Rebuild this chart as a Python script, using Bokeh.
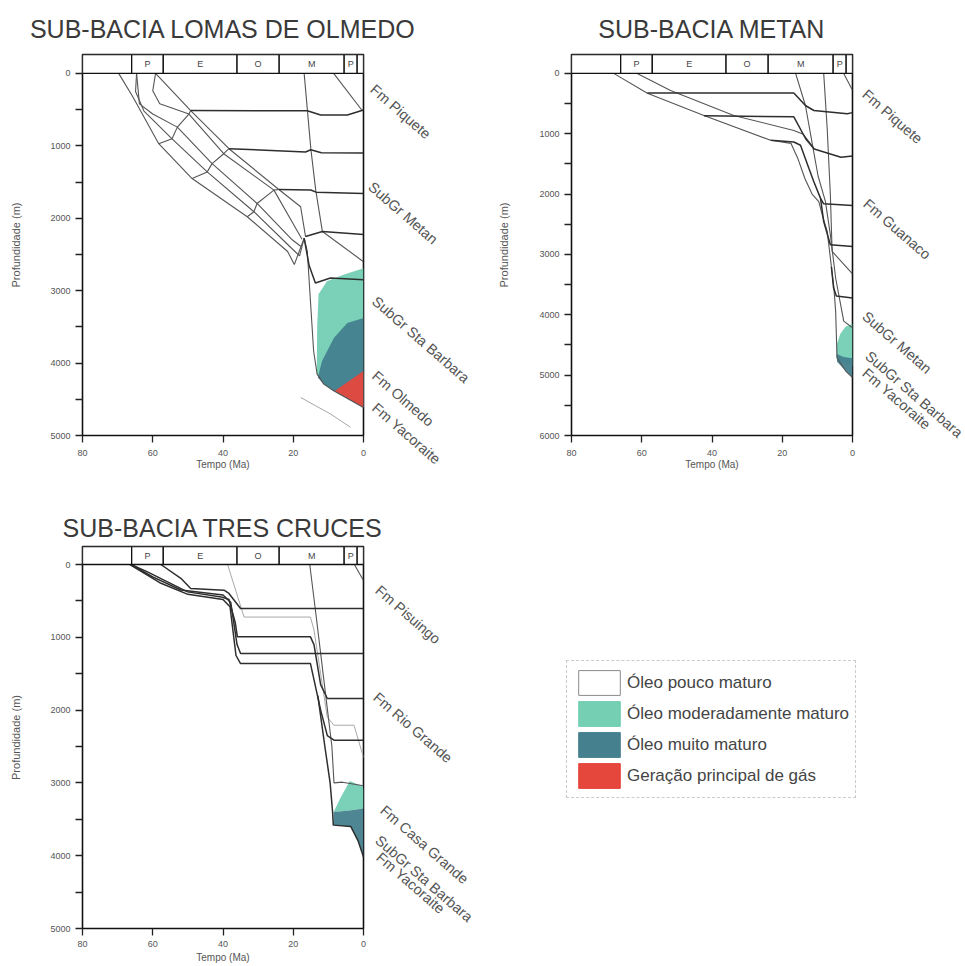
from bokeh.plotting import figure
from bokeh.layouts import row, column
from bokeh.models import (Range1d, FixedTicker, ColumnDataSource, Legend, LegendItem)
from bokeh.core.properties import value
from bokeh.embed import file_html
from bokeh.resources import INLINE

FONT = "Liberation Sans"
NAN = float("nan")

# ------------------------------------------------------------------ data
ERA_START = [80, 66, 57, 36, 24, 5.5, 1.8]
ERA_END = [66, 57, 36, 24, 5.5, 1.8, 0]
ERA_NAMES = ["", "P", "E", "O", "M", "P", ""]
X_TICKS = [80, 60, 40, 20, 0]

LEGEND_NAMES = ["Óleo pouco maturo", "Óleo moderadamente maturo",
                "Óleo muito maturo", "Geração principal de gás"]

# ---- Sub-bacia Lomas de Olmedo  (age Ma, depth m)
LO_TITLE = "SUB-BACIA LOMAS DE OLMEDO"
LO_MAX = 5000
LO_BAND_1 = [(69.7, 0), (65.6, 330), (58.3, 971), (48.8, 1452), (33.1, 1979), (21.6, 2459),
             (19.7, 2640), (16.9, 2276), (16.0, 2459), (15.1, 3146), (14.2, 3833),
             (13.2, 4153), (11.3, 4291), (8.5, 4383), (0, 4612)]
LO_BAND_2 = [(64.6, 0), (64.9, 250), (62.5, 520), (54.5, 903), (44.5, 1360), (31.2, 1910),
             (21.0, 2390), (18.2, 2520), (16.9, 2276)]
LO_BAND_3 = [(64.6, 0), (63.8, 420), (60.0, 560), (53.0, 742), (43.1, 1246), (30.3, 1796),
             (20.5, 2290), (17.8, 2390)]
LO_BAND_4 = [(59.2, 0), (60.0, 240), (58.0, 420), (49.7, 562), (39.8, 1109), (25.5, 1612),
             (19.5, 2120), (17.5, 2290)]
LO_BAND_5 = [(59.2, 0), (49.2, 513), (38.3, 1040), (24.1, 1603), (17.9, 1841), (16.5, 2253)]
LO_KINK_1 = [(58.3, 971), (54.5, 903), (53.0, 742), (49.7, 562), (49.2, 513)]
LO_KINK_2 = [(48.8, 1452), (44.5, 1360), (43.1, 1246), (39.8, 1109), (38.3, 1040)]
LO_KINK_3 = [(33.1, 1979), (31.2, 1910), (30.3, 1796), (25.5, 1612), (24.1, 1603)]
LO_H_500 = [(49.2, 513), (16.0, 515), (12.2, 575), (4.6, 575), (0, 505)]
LO_H_1100 = [(38.3, 1040), (16.5, 1085), (15.0, 1055), (12.0, 1095), (0, 1100)]
LO_H_1650 = [(24.1, 1603), (15.0, 1610), (13.5, 1640), (0, 1660)]
LO_H_2200 = [(16.5, 2253), (11.7, 2184), (0, 2226)]
LO_H_2850 = [(16.9, 2276), (15.5, 2650), (13.7, 2895), (9.4, 2826), (0, 2850)]
LO_V_17 = [(16.9, 0), (15.0, 1039), (13.6, 1612), (11.7, 2184)]
LO_V_8 = [(8.5, 0), (0.5, 505)]
LO_D_2600 = [(11.7, 2184), (0, 2600)]
LO_FAINT = [(17.9, 4475), (9.4, 4703), (3.7, 4886)]
LO_MOD = [(0, 2690), (5.7, 2780), (10.4, 2870), (12.8, 3050), (13.2, 3500), (13.3, 4150),
          (11.3, 4291), (8.5, 4383), (0, 4612)]
LO_VMAT = [(0, 3376), (4.6, 3445), (8.4, 3651), (11.8, 3971), (13.0, 4200), (11.3, 4291),
           (8.5, 4383), (0, 4612)]
LO_GAS = [(0, 4108), (8.2, 4385), (0, 4612)]
LO_FM = ["Fm Piquete", "SubGr Metan", "SubGr Sta Barbara", "Fm Olmedo", "Fm Yacoraite"]
LO_FM_AGE = [-2.6, -2.0, -3.1, -3.1, -3.1]
LO_FM_DEPTH = [192, 1538, 3118, 4148, 4588]

# ---- Sub-bacia Metan
ME_TITLE = "SUB-BACIA METAN"
ME_MAX = 6000
ME_X = [(68.0, 0), (58.4, 330), (42.3, 697), (23.3, 1109), (17.5, 1160), (15.5, 1420),
        (13.5, 1750), (11.5, 2000), (9.6, 2126), (8.6, 2346), (7.2, 2620), (6.3, 3060),
        (5.3, 3554), (4.8, 3939), (4.4, 4708), (2.0, 4928), (0, 5040)]
ME_Y = [(61.3, 0), (51.8, 285), (33.8, 697), (16.7, 947), (14.0, 1010), (11.5, 1200),
        (10.9, 1252)]
ME_H1 = [(58.4, 325), (16.7, 325), (13.4, 532), (11.0, 615), (1.5, 670), (0, 650)]
ME_H2 = [(42.3, 700), (16.7, 720), (13.3, 1087), (10.9, 1252), (3.3, 1390), (0, 1370)]
ME_H3 = [(23.3, 1109), (16.7, 1137), (14.8, 1191), (12.4, 1577), (11.0, 1796), (9.1, 2071),
         (8.2, 2160), (0, 2190)]
ME_S2 = [(9.1, 2071), (8.2, 2456), (6.3, 2840), (0, 2870)]
ME_B = [(6.0, 3208), (5.4, 3550), (4.6, 3690), (0, 3720)]
ME_V1 = [(16.2, 0), (13.4, 532), (11.5, 1150), (9.8, 1700), (7.7, 2126), (6.3, 2675),
         (4.8, 3390), (2.5, 4104), (0, 4214)]
ME_V2 = [(8.2, 0), (7.2, 918), (6.3, 2015), (5.8, 2950), (0, 3320)]
ME_TOP = [(2.5, 0), (0, 280)]
ME_MOD = [(0, 4150), (2.0, 4200), (3.5, 4320), (4.5, 4500), (4.6, 4720), (2.5, 4800), (0, 4850)]
ME_VMAT = [(4.5, 4650), (2.5, 4700), (0, 4720), (0, 5040), (2.0, 4928), (4.4, 4780)]
ME_FM = ["Fm Piquete", "Fm Guanaco", "SubGr Metan", "SubGr Sta Barbara", "Fm Yacoraite"]
ME_FM_AGE = [-3.4, -3.7, -3.4, -4.3, -3.4]
ME_FM_DEPTH = [313, 2126, 3989, 4648, 4929]

# ---- Sub-bacia Tres Cruces
TC_TITLE = "SUB-BACIA TRES CRUCES"
TC_MAX = 5000
TC_H1 = [(57.7, 0), (52.0, 190), (49.2, 330), (39.7, 353), (38.3, 398), (35.0, 605), (0, 605)]
TC_D2 = [(66.2, 0), (61.5, 101), (55.8, 239), (50.1, 376), (40.5, 445), (38.3, 480),
         (36.5, 800), (35.9, 994), (15.1, 994), (14.1, 1100), (12.2, 1650), (10.3, 1841),
         (0, 1841)]
TC_D3 = [(66.2, 0), (60.0, 170), (52.0, 350), (40.0, 420), (37.8, 520), (36.0, 1100),
         (35.0, 1223), (0, 1223)]
TC_D4 = [(66.5, 0), (58.0, 250), (50.0, 410), (40.0, 480), (38.0, 580), (36.3, 1250),
         (35.0, 1361), (15.1, 1361), (12.2, 2000), (10.3, 2350), (8.4, 2414), (0, 2414)]
TC_LIGHT = [(38.7, 0), (34.0, 722), (15.1, 722), (14.1, 900), (12.2, 1500), (10.3, 2100),
            (8.4, 2208), (2.7, 2208), (0, 2650)]
TC_V = [(15.3, 0), (13.5, 700), (12.0, 1300), (10.5, 1900), (9.0, 2500), (8.4, 3000),
        (6.0, 2990), (0, 3040)]
TC_DEEP = [(13.0, 1800), (11.0, 2500), (9.5, 3000), (8.8, 3400), (8.6, 3580), (3.6, 3600),
           (1.5, 3800), (0, 4018)]
TC_TOP = [(2.6, 0), (0, 220)]
TC_MOD = [(3.9, 2974), (0.2, 3050), (0, 3096), (0, 3350), (4.0, 3380), (8.5, 3400), (6.5, 3200)]
TC_VMAT = [(8.5, 3400), (4.0, 3380), (0, 3350), (0, 4018), (1.5, 3800), (3.6, 3600), (8.5, 3580)]
TC_FM = ["Fm Pisuingo", "Fm Rio Grande", "Fm Casa Grande", "SubGr Sta Barbara", "Fm Yacoraite"]
TC_FM_AGE = [-4.0, -3.4, -5.4, -4.0, -4.3]
TC_FM_DEPTH = [326, 1795, 3347, 3760, 3993]

# ------------------------------------------------------------------ style
C_MOD = "#74cfb3"
C_VMAT = "#45808e"
C_GAS = "#e5473d"
C_DARK = "#2e2e2e"
C_MID = "#555555"
C_LIGHT = "#a8a8a8"
DATA_PX = 364


def xy(seq):
    return [a for a, _ in seq], [d for _, d in seq]


def make_fig(title, max_depth, hdr_px, width, height, bl, br, bt, bb, title_standoff,
             ylab_standoff, x_tick_out, x_lab_standoff, x_axlab_standoff,
             dark, mid, light, fills, fm_names, fm_age, fm_depth):
    hdr = hdr_px * max_depth / DATA_PX
    p = figure(width=width, height=height, x_range=Range1d(80, 0),
               y_range=Range1d(max_depth, -hdr), output_backend="svg",
               toolbar_location=None, min_border_left=bl, min_border_right=br,
               min_border_top=bt, min_border_bottom=bb,
               background_fill_color="white", border_fill_color="white")
    p.grid.visible = False
    p.outline_line_color = "#111111"
    p.outline_line_width = 1.6

    p.title.text = title
    p.title.text_font = FONT
    p.title.text_font_size = "25px"
    p.title.text_font_style = "normal"
    p.title.text_color = "#3a3a3a"
    p.title.align = "center"
    p.title.standoff = title_standoff

    for ax in (p.xaxis[0], p.yaxis[0]):
        ax.axis_line_color = None
        ax.major_tick_in = 0
        ax.major_tick_line_color = "#222222"
        ax.major_tick_line_width = 1.3
        ax.minor_tick_line_color = None
        ax.major_label_text_font = FONT
        ax.major_label_text_font_size = "9px"
        ax.major_label_text_color = "#555555"
        ax.axis_label_text_font = FONT
        ax.axis_label_text_font_style = "normal"
        ax.axis_label_text_color = "#555555"
        ax.axis_label_text_font_size = "10px"

    p.xaxis.ticker = FixedTicker(ticks=X_TICKS)
    p.xaxis.axis_label = "Tempo (Ma)"
    p.xaxis.major_tick_out = x_tick_out
    p.xaxis.major_label_standoff = x_lab_standoff
    p.xaxis.axis_label_standoff = x_axlab_standoff

    yt = list(range(0, max_depth + 1, 500))
    p.yaxis.ticker = FixedTicker(ticks=yt)
    p.yaxis.major_label_overrides = {v: "" for v in yt if v % 1000}
    p.yaxis.axis_label = "Profundidade (m)"
    p.yaxis.major_tick_out = 7
    p.yaxis.major_label_standoff = 5
    p.yaxis.axis_label_standoff = ylab_standoff
    p.yaxis.axis_label_text_font_size = "11px"

    # maturity windows
    for seq, col in fills:
        a, d = xy(seq)
        p.patch(a, d, fill_color=col, line_color=None, fill_alpha=0.95)

    # burial curves
    for group, col, lw in ((light, C_LIGHT, 1.0), (mid, C_MID, 1.1), (dark, C_DARK, 1.5)):
        for seq in group:
            a, d = xy(seq)
            p.line(a, d, line_color=col, line_width=lw)

    # chronostratigraphic header
    p.quad(left=ERA_START, right=ERA_END, top=-hdr, bottom=0, fill_color="white",
           line_color="#111111", line_width=1.3)
    mids = [(s + e) / 2 for s, e in zip(ERA_START, ERA_END)]
    p.text(x=mids, y=[-hdr / 2] * len(mids), text=ERA_NAMES, text_align="center",
           text_baseline="middle", text_font_size="9px", text_color="#444444",
           text_font=value(FONT))

    # formation names, drawn at overlay level so they can sit beside the frame
    src = ColumnDataSource(dict(x=fm_age, y=fm_depth, t=fm_names))
    p.text(x="x", y="y", text="t", source=src, angle=-41, angle_units="deg",
           text_font=value(FONT), text_font_size="14.5px", text_color="#555555",
           text_baseline="middle", text_align="left", level="overlay")
    return p


p1 = make_fig(LO_TITLE, LO_MAX, 19, 490, 478, 82, 127, 52, 43, 24, 25, 7, 7, 0,
              dark=[LO_H_500, LO_H_1100, LO_H_1650, LO_H_2200, LO_H_2850],
              mid=[LO_BAND_1, LO_BAND_2, LO_BAND_3, LO_BAND_4, LO_BAND_5,
                   LO_KINK_1, LO_KINK_2, LO_KINK_3, LO_V_17, LO_V_8, LO_D_2600],
              light=[LO_FAINT],
              fills=[(LO_MOD, C_MOD), (LO_VMAT, C_VMAT), (LO_GAS, C_GAS)],
              fm_names=LO_FM, fm_age=LO_FM_AGE, fm_depth=LO_FM_DEPTH)

p2 = make_fig(ME_TITLE, ME_MAX, 19, 475, 478, 81, 113, 52, 43, 24, 26, 7, 7, 0,
              dark=[ME_H1, ME_H2, ME_H3, ME_S2, ME_B],
              mid=[ME_X, ME_Y, ME_V1, ME_V2, ME_TOP],
              light=[],
              fills=[(ME_MOD, C_MOD), (ME_VMAT, C_VMAT)],
              fm_names=ME_FM, fm_age=ME_FM_AGE, fm_depth=ME_FM_DEPTH)

p3 = make_fig(TC_TITLE, TC_MAX, 18, 490, 488, 82, 127, 68, 38, 10, 25, 7, 5, 2,
              dark=[TC_H1, TC_D2, TC_D3, TC_D4, TC_DEEP],
              mid=[TC_V, TC_TOP],
              light=[TC_LIGHT],
              fills=[(TC_MOD, C_MOD), (TC_VMAT, C_VMAT)],
              fm_names=TC_FM, fm_age=TC_FM_AGE, fm_depth=TC_FM_DEPTH)

# legend panel
p4 = figure(width=475, height=488, x_range=Range1d(0, 1), y_range=Range1d(0, 1),
            output_backend="svg", toolbar_location=None, min_border=0,
            x_axis_location=None, y_axis_location=None, outline_line_color=None,
            background_fill_color="white", border_fill_color="white")
p4.grid.visible = False
sw_fill = ["white", C_MOD, C_VMAT, C_GAS]
sw_line = ["#8a8a8a", C_MOD, C_VMAT, C_GAS]
items = []
for name, fc, lc in zip(LEGEND_NAMES, sw_fill, sw_line):
    r = p4.quad(left=[NAN], right=[NAN], top=[NAN], bottom=[NAN], fill_color=fc,
                line_color=lc, line_width=1)
    items.append(LegendItem(label=name, renderers=[r]))
leg = Legend(items=items, location=(76, 130), glyph_width=52, glyph_height=31,
             label_height=25, spacing=0, padding=6, margin=0, label_standoff=2,
             label_text_font=FONT, label_text_font_size="17px", label_text_color="#444444",
             border_line_color="#999999", border_line_dash="2 2", border_line_width=1,
             background_fill_color="white", background_fill_alpha=1.0)
p4.add_layout(leg)

layout = column(row(p1, p2), row(p3, p4))
open("out.html", "w").write(file_html(layout, INLINE))
